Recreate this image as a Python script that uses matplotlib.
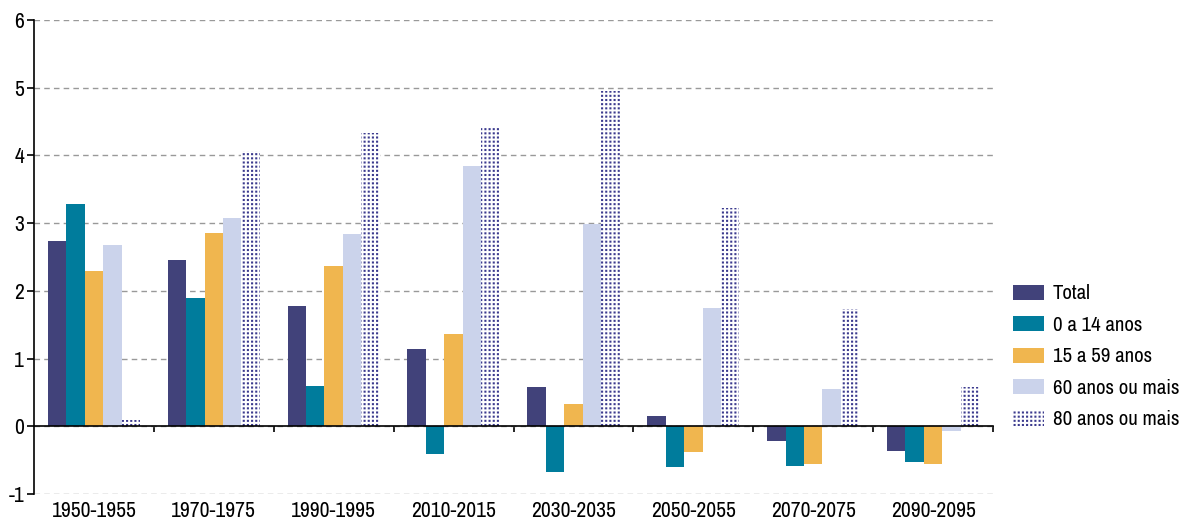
import numpy as np
import matplotlib as mpl
mpl.use('Agg')
import matplotlib.pyplot as plt
from matplotlib.legend_handler import HandlerTuple

plt.rcParams['font.family'] = ['Archivo Narrow', 'DejaVu Sans']
plt.rcParams['axes.unicode_minus'] = False
plt.rcParams['hatch.linewidth'] = 1.5

#%% data
periods = ['1950-1955', '1970-1975', '1990-1995', '2010-2015',
           '2030-2035', '2050-2055', '2070-2075', '2090-2095']
total = [2.73, 2.46, 1.77, 1.14, 0.58, 0.15, -0.21, -0.37]
age_0_14 = [3.28, 1.89, 0.59, -0.41, -0.68, -0.60, -0.58, -0.53]
age_15_59 = [2.30, 2.85, 2.37, 1.36, 0.33, -0.38, -0.56, -0.56]
age_60 = [2.67, 3.07, 2.84, 3.85, 2.98, 1.75, 0.55, -0.07]
age_80 = [0.10, 4.07, 4.33, 4.40, 4.95, 3.22, 1.73, 0.58]
labels = ['Total', '0 a 14 anos', '15 a 59 anos', '60 anos ou mais', '80 anos ou mais']

colors = ['#41427a', '#007c9c', '#f0b64f', '#cbd3eb']
dot_color = '#3b3a8e'

#%% plot
fig = plt.figure(figsize=(11.84, 5.23), dpi=100)
ax = fig.add_axes([0.0287, 0.0554, 0.81, 0.9064])

x = np.arange(len(periods))
w = 0.154
series = [total, age_0_14, age_15_59, age_60]
handles = []
for i, (vals, c) in enumerate(zip(series, colors)):
    b = ax.bar(x + (i - 2) * w, vals, w, color=c, linewidth=0, zorder=3)
    handles.append(b)

# dotted bars: dark vertical hatch, broken by white horizontal hatch
b1 = ax.bar(x + 2 * w, age_80, w, facecolor='white', edgecolor=dot_color,
            linewidth=0, hatch='||||', zorder=3)
b2 = ax.bar(x + 2 * w, age_80, w, facecolor='none', edgecolor='white',
            linewidth=0, hatch='----', zorder=4)
handles.append((b1, b2))

ax.set_xlim(-0.5, len(periods) - 0.5)
ax.set_ylim(-1, 6)
ax.set_yticks(range(-1, 7))
ax.yaxis.grid(True, linestyle=(0, (4, 3)), color='#999999', linewidth=1)
ax.set_axisbelow(True)

for s in ['top', 'right']:
    ax.spines[s].set_visible(False)
ax.spines['left'].set_linewidth(1.2)
ax.spines['bottom'].set_position(('data', 0))
ax.spines['bottom'].set_linewidth(1.2)
ax.spines['bottom'].set_zorder(5)

ax.set_xticks(x + 0.5)
ax.set_xticklabels([])
ax.tick_params(axis='x', direction='out', length=4, width=1.2)
ax.tick_params(axis='y', direction='out', length=5, width=1.2, labelsize=15.5, pad=2)

sec = ax.secondary_xaxis('bottom')
sec.set_xticks(x)
sec.set_xticklabels(periods)
sec.tick_params(length=0, labelsize=15.5, pad=5)
sec.spines['bottom'].set_visible(False)

fig.legend(handles, labels, loc='center left', bbox_to_anchor=(0.8556, 0.3174),
           frameon=False, fontsize=15, handlelength=1.5, handleheight=0.75,
           handletextpad=0.4, labelspacing=0.6, borderpad=0, borderaxespad=0,
           handler_map={tuple: HandlerTuple(ndivide=1)})

fig.savefig('out.png', dpi=100)
